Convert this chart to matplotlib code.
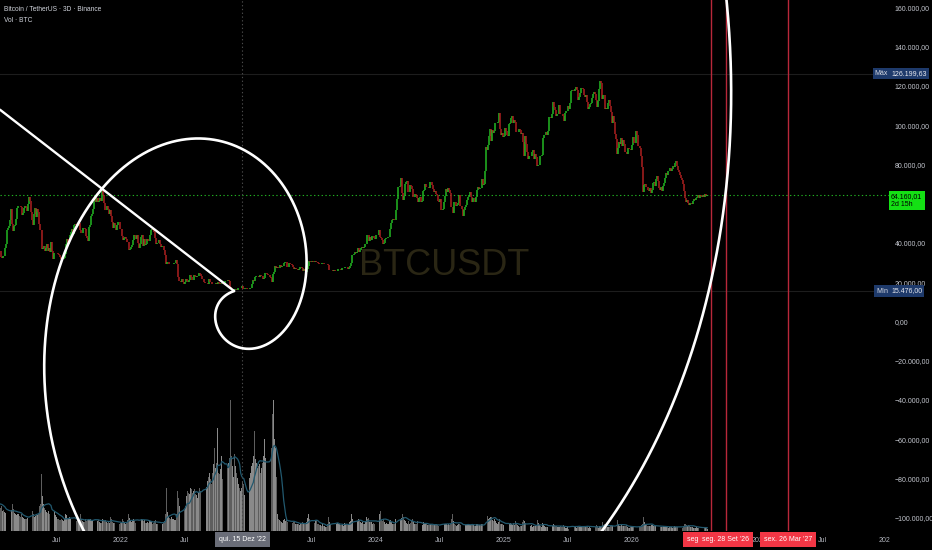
import numpy as np
import pandas as pd
import matplotlib
matplotlib.use('Agg')
import matplotlib.pyplot as plt
import matplotlib.dates as mdates
from matplotlib.patches import Rectangle
from matplotlib.transforms import blended_transform_factory

plt.rcParams['font.family'] = ['Liberation Sans', 'DejaVu Sans']

# 3D closes in thousand USDT, first candle 2021-01-01, one row = 10 candles (30 days)
close_k = [
    29.4, 31.9, 39.4, 38.2, 37.4, 36.0, 35.8, 33.0, 32.3, 33.4,   # 2021-01
    33.1, 37.6, 39.3, 46.4, 47.4, 48.7, 51.6, 57.5, 49.7, 46.2,
    48.4, 48.9, 52.4, 57.8, 59.0, 58.9, 58.1, 54.3, 55.1, 57.6,
    59.0, 58.2, 56.0, 59.8, 63.6, 61.3, 55.7, 51.7, 49.0, 54.9,
    57.8, 53.2, 57.4, 55.9, 49.7, 46.4, 37.0, 37.5, 38.4, 35.7,
    37.3, 39.2, 35.8, 37.3, 35.5, 40.2, 35.8, 31.6, 34.7, 34.7,
    35.0, 34.7, 34.2, 33.8, 32.7, 31.8, 31.8, 32.1, 34.2, 39.5,
    42.2, 39.2, 40.9, 43.8, 45.6, 47.1, 44.7, 49.3, 49.5, 49.0,
    48.8, 48.8, 50.0, 46.8, 44.9, 44.9, 47.7, 47.3, 43.6, 42.7,
    41.0, 48.1, 49.2, 53.8, 54.7, 57.4, 60.9, 64.3, 60.7, 63.1,
    60.6, 61.3, 62.9, 61.5, 67.5, 64.2, 60.1, 56.9, 58.6, 57.2,
    54.8, 57.0, 53.6, 50.6, 47.6, 50.1, 48.9, 46.7, 48.9, 50.8,
    50.7, 47.1, 47.3, 43.5, 41.7, 42.7, 43.1, 42.2, 40.7, 36.3,   # 2022-01
    36.8, 37.9, 38.7, 41.6, 43.8, 43.5, 42.2, 43.9, 40.1, 37.3,
    39.2, 43.2, 43.9, 38.4, 41.9, 38.8, 39.3, 41.8, 41.0, 44.0,
    46.8, 47.1, 46.4, 45.5, 42.3, 39.5, 39.9, 39.7, 41.5, 39.4,
    38.1, 38.6, 38.5, 36.5, 34.0, 29.0, 30.1, 30.4, 29.2, 29.1,
    29.2, 29.4, 29.8, 29.9, 31.1, 29.1, 22.5, 20.4, 20.6, 20.0,
    21.5, 20.1, 19.3, 20.2, 21.6, 20.8, 20.2, 21.2, 23.4, 22.6,
    21.3, 23.8, 23.3, 22.8, 23.2, 23.2, 24.4, 24.3, 23.3, 21.5,
    21.5, 20.0, 19.8, 19.8, 19.8, 19.3, 21.8, 20.2, 20.1, 18.9,
    19.3, 19.2, 19.6, 19.3, 20.3, 19.4, 19.0, 19.2, 19.5, 19.2,
    19.6, 20.8, 20.6, 20.5, 21.3, 20.6, 17.6, 16.3, 16.7, 16.7,
    16.2, 16.5, 16.2, 16.9, 17.1, 16.8, 17.1, 17.8, 16.6, 16.4,
    16.8, 16.8, 16.5, 16.5, 16.7, 16.9, 17.2, 18.8, 20.9, 20.7,
    22.8, 22.9, 23.0, 22.8, 23.4, 22.9, 22.9, 21.6, 22.2, 24.6,   # 2023-01
    24.8, 23.9, 23.5, 23.6, 22.4, 22.2, 20.2, 24.1, 25.0, 28.0,
    27.3, 27.5, 27.1, 28.5, 27.8, 28.0, 28.3, 30.0, 30.3, 30.4,
    27.8, 27.5, 29.5, 29.2, 29.0, 28.8, 27.6, 26.8, 27.2, 26.8,
    26.8, 26.3, 26.9, 27.7, 27.2, 25.7, 26.5, 25.8, 25.1, 26.5,
    28.3, 30.7, 30.3, 30.4, 30.6, 30.5, 30.3, 30.6, 30.3, 30.1,
    29.9, 29.2, 29.4, 29.3, 29.7, 29.1, 29.2, 29.4, 29.3, 28.7,
    26.1, 26.4, 26.2, 26.1, 25.9, 26.0, 25.8, 25.9, 25.9, 26.5,
    26.8, 26.6, 26.3, 27.0, 27.0, 27.6, 27.9, 27.6, 26.9, 27.1,
    28.4, 29.9, 33.9, 34.0, 34.5, 35.4, 35.0, 35.6, 37.3, 35.6,
    36.6, 37.5, 37.7, 37.5, 37.9, 39.5, 44.0, 43.8, 41.2, 43.0,
    41.4, 43.7, 43.7, 42.5, 42.1, 44.2, 44.2, 43.9, 46.7, 42.8,
    42.5, 41.6, 39.5, 40.0, 42.0, 42.6, 43.0, 43.1, 47.1, 49.9,   # 2024-01
    51.9, 52.1, 51.9, 51.7, 57.0, 62.4, 68.3, 68.3, 68.9, 73.1,
    65.3, 62.0, 63.8, 69.9, 70.8, 71.3, 65.9, 69.4, 69.1, 67.2,
    63.4, 63.5, 64.9, 64.3, 63.1, 60.6, 62.9, 63.2, 60.8, 61.5,
    66.2, 67.0, 70.1, 68.5, 68.5, 68.4, 67.7, 71.1, 69.3, 67.3,
    66.0, 66.5, 64.9, 64.2, 61.5, 60.9, 62.1, 56.6, 56.7, 57.3,
    60.8, 64.1, 67.2, 65.9, 67.9, 66.8, 65.4, 58.1, 55.0, 60.9,
    60.6, 58.9, 59.5, 60.4, 64.2, 59.0, 58.9, 57.5, 53.9, 57.0,
    58.2, 59.2, 61.8, 63.3, 64.3, 65.8, 63.3, 60.8, 62.8, 60.6,
    63.2, 67.0, 68.4, 67.4, 68.2, 67.9, 72.3, 69.3, 70.0, 76.7,
    88.7, 87.2, 89.8, 94.3, 97.8, 91.9, 97.5, 95.9, 96.9, 101.1,
    101.1, 101.4, 106.1, 97.8, 94.7, 95.8, 93.7, 94.6, 98.3, 96.9,
    94.7, 94.5, 100.5, 101.3, 103.7, 104.7, 101.3, 102.4, 101.4, 96.5,   # 2025-01
    96.5, 97.9, 97.5, 95.6, 96.1, 91.5, 84.3, 94.3, 90.6, 86.2,
    82.9, 84.0, 84.1, 84.2, 86.1, 87.2, 82.6, 85.1, 83.9, 79.1,
    79.6, 84.5, 84.0, 85.0, 93.4, 94.7, 95.0, 96.5, 95.0, 97.0,
    104.0, 104.1, 103.5, 105.6, 111.7, 109.0, 107.8, 104.6, 105.4, 105.6,
    110.2, 105.9, 105.6, 104.8, 102.2, 106.1, 107.1, 107.1, 109.6, 108.2,
    111.3, 117.5, 117.7, 117.9, 117.4, 118.4, 119.4, 117.8, 112.6, 114.1,
    116.5, 118.7, 118.3, 115.4, 114.3, 115.3, 111.8, 108.4, 109.2, 110.7,
    111.1, 114.0, 115.9, 116.8, 115.7, 112.7, 109.0, 112.2, 118.6, 122.3,
    121.5, 113.2, 115.2, 108.2, 108.6, 108.4, 111.5, 112.9, 109.6, 106.5,
    101.3, 104.7, 101.6, 95.5, 92.9, 85.1, 88.3, 91.3, 90.4, 93.4,
    89.3, 92.6, 90.3, 86.4, 85.5, 88.5, 87.6, 87.8, 87.1, 90.0,
    93.9, 90.9, 90.8, 96.9, 95.1, 89.5, 89.3, 88.2, 84.5, 78.6,   # 2026-01
    66.0, 69.5, 70.2, 68.5, 67.0, 66.5, 68.0, 65.5, 66.8, 70.5,
    71.0, 69.0, 72.5, 74.0, 71.5, 68.0, 67.0, 68.5, 66.5, 69.0,
    70.5, 73.0, 75.5, 74.5, 76.5, 78.0, 76.5, 77.5, 79.0, 78.5,
    80.5, 81.5, 79.0, 77.0, 76.0, 74.5, 73.0, 72.0, 70.0, 66.5,
    63.0, 61.0, 62.0, 60.5, 59.5, 60.5, 59.8, 61.5, 62.5, 62.0,
    63.0, 63.5, 64.2, 63.0, 64.5, 64.0, 63.2, 64.5, 63.5, 64.8,
    64.0, 64.16,
]

# 3D volume in thousand BTC, same candles
vol_k = [
    360, 330, 420, 380, 300, 260, 250, 280, 300, 240,
    250, 230, 220, 260, 240, 200, 210, 250, 330, 260,
    220, 200, 190, 210, 200, 180, 170, 200, 170, 160,
    150, 140, 150, 160, 190, 230, 250, 240, 200, 170,
    180, 200, 190, 210, 300, 330, 680, 420, 320, 280,
    250, 230, 220, 240, 200, 230, 210, 300, 240, 190,
    170, 150, 140, 130, 130, 140, 130, 120, 150, 200,
    190, 150, 150, 170, 150, 140, 140, 150, 130, 120,
    130, 120, 140, 200, 150, 120, 110, 110, 140, 120,
    130, 150, 130, 140, 120, 120, 150, 160, 130, 120,
    130, 110, 100, 100, 140, 120, 120, 130, 110, 100,
    110, 100, 170, 150, 110, 100, 100, 100, 90, 80,
    80, 100, 110, 140, 120, 100, 90, 100, 130, 200,
    160, 120, 110, 130, 140, 120, 100, 120, 130, 160,
    180, 150, 130, 120, 130, 100, 100, 110, 100, 120,
    120, 110, 90, 100, 120, 130, 90, 80, 100, 90,
    100, 90, 110, 120, 200, 520, 230, 180, 160, 150,
    170, 150, 140, 130, 130, 200, 480, 400, 300, 220,
    240, 220, 250, 300, 420, 480, 460, 440, 520, 500,
    460, 480, 500, 450, 430, 400, 460, 520, 480, 560,
    600, 550, 520, 530, 600, 650, 700, 620, 560, 700,
    800, 1000, 760, 820, 1240, 700, 680, 750, 900, 620,
    700, 860, 800, 760, 820, 880, 1570, 900, 780, 650,
    920, 780, 700, 640, 560, 520, 480, 520, 600, 560,
    430, 300, 280, 420, 640, 700, 780, 820, 900, 1200,
    860, 820, 760, 780, 800, 700, 760, 820, 900, 1100,
    880, 760, 800, 760, 900, 1000, 1400, 1570, 1100, 1000,
    650, 200, 140, 130, 120, 110, 100, 130, 140, 120,
    130, 110, 140, 100, 90, 100, 110, 120, 90, 80,
    80, 90, 70, 80, 90, 110, 100, 90, 100, 110,
    160, 200, 140, 130, 110, 100, 100, 120, 130, 90,
    80, 70, 70, 60, 80, 60, 60, 50, 50, 90,
    170, 110, 80, 90, 110, 70, 70, 80, 100, 80,
    80, 70, 70, 80, 60, 100, 90, 80, 80, 70,
    110, 120, 200, 150, 110, 120, 100, 120, 140, 130,
    110, 100, 110, 90, 90, 120, 170, 150, 160, 110,
    110, 110, 90, 100, 80, 130, 140, 120, 200, 240,
    130, 120, 150, 110, 90, 100, 90, 80, 120, 130,
    110, 90, 80, 80, 140, 180, 200, 170, 150, 160,
    200, 170, 130, 120, 100, 90, 120, 90, 100, 120,
    140, 120, 90, 80, 80, 120, 110, 80, 80, 70,
    110, 80, 100, 80, 70, 70, 70, 80, 80, 70,
    70, 70, 80, 80, 70, 60, 60, 120, 110, 90,
    80, 90, 80, 70, 80, 70, 80, 140, 200, 120,
    80, 70, 60, 70, 90, 80, 70, 70, 90, 80,
    70, 70, 80, 80, 70, 70, 80, 90, 70, 60,
    60, 80, 80, 70, 70, 70, 80, 80, 70, 150,
    240, 180, 150, 160, 170, 170, 130, 120, 140, 120,
    100, 90, 110, 140, 90, 80, 80, 70, 70, 80,
    90, 100, 90, 100, 80, 70, 100, 70, 120, 90,
    70, 60, 50, 60, 60, 110, 130, 120, 100, 80,
    80, 70, 60, 70, 50, 60, 60, 60, 70, 130,
    100, 70, 60, 50, 100, 80, 60, 50, 50, 50,
    70, 60, 50, 60, 80, 70, 60, 60, 50, 50,
    50, 60, 50, 50, 70, 60, 40, 40, 50, 30,
    70, 80, 60, 50, 50, 60, 40, 50, 60, 50,
    50, 60, 60, 50, 60, 60, 60, 60, 40, 50,
    40, 50, 40, 40, 50, 70, 60, 40, 60, 60,
    60, 110, 70, 80, 60, 50, 50, 50, 50, 60,
    70, 60, 60, 80, 90, 130, 90, 60, 60, 70,
    60, 60, 60, 60, 70, 50, 40, 40, 50, 50,
    50, 60, 40, 60, 50, 60, 50, 50, 70, 90,
    170, 110, 80, 70, 60, 60, 60, 60, 70, 70,
    60, 60, 60, 60, 50, 60, 50, 50, 50, 60,
    50, 50, 60, 50, 40, 50, 50, 50, 40, 50,
    60, 50, 50, 50, 40, 50, 50, 40, 60, 80,
    90, 70, 60, 70, 60, 50, 50, 50, 40, 40,
    40, 50, 40, 40, 40, 40, 40, 40, 40, 40,
    40, 30,
]

first_open_k = 28.9
first_candle = '2021-01-01'

# labels hidden under the crosshair / drawing boxes (2023, Jul 2026) are left out
tick_dates = ['2021-07-01', '2022-01-01', '2022-07-01', '2023-07-01',
              '2024-01-01', '2024-07-01', '2025-01-01', '2025-07-01', '2026-01-01',
              '2027-01-01', '2027-07-01', '2028-01-01']
tick_labels = ['Jul', '2022', 'Jul', 'Jul', '2024', 'Jul', '2025', 'Jul', '2026',
               '2027', 'Jul', '2028']
price_ticks = [160000, 140000, 120000, 100000, 80000, 40000, 20000, 0,
               -20000, -40000, -60000, -80000, -100000]

last_price = 64160.01
countdown = '2d 15h'
price_max = 126199.63
price_min = 15476.00

spiral_center = ('2022-11-21', 15476.0)
spiral_anchor = ('2021-11-08', 67600.0)

vline_dates = ['2026-08-17', '2026-09-28', '2027-03-26']
vline_labels = ["seg. 17 Ago '26", "seg. 28 Set '26", "sex. 26 Mar '27"]
cross_date = '2022-12-15'
cross_label = "qui. 15 Dez '22"


def dnum(s):
    return mdates.date2num(np.datetime64(s))


def br(v):
    s = f"{abs(v):,.2f}".replace(',', 'X').replace('.', ',').replace('X', '.')
    return ('\u2212' if v < 0 else '') + s


n = min(len(close_k), len(vol_k))
close = np.array(close_k[:n]) * 1000
opens = np.concatenate([[first_open_k * 1000], close[:-1]])
vol = np.array(vol_k[:n], dtype=float)
t = mdates.date2num(np.datetime64(first_candle) + np.arange(n) * np.timedelta64(3, 'D'))
up = close >= opens

W, H = 932, 550
fig = plt.figure(figsize=(W / 100, H / 100), dpi=100, facecolor='black')
rect = [0, 19 / H, 889 / W, 531 / H]
axv = fig.add_axes(rect)
ax = fig.add_axes(rect, sharex=axv)
axv.set_facecolor('black')
ax.patch.set_visible(False)
axv.set_zorder(0)
ax.set_zorder(1)

x0 = dnum('2022-01-01') - 345.8
x1 = dnum('2022-01-01') + 2198.0
ax.set_xlim(x0, x1)
ax.set_ylim(-106770, 163720)

# volume overlay
axv.set_ylim(0, 6372)
axv.bar(t, vol, width=2.4, color=np.where(up, '#8a8a8a', '#5e5e5e'), linewidth=0)
vma = pd.Series(vol).rolling(10, min_periods=1).mean()
axv.plot(t, vma, color='#22596f', lw=0.9)
axv.axis('off')

# candles
ax.vlines(t, np.minimum(opens, close), np.maximum(opens, close),
          colors=np.where(up, '#22b822', '#ad2020'), lw=1.1, zorder=3)

ax.text(0.5, 0.5, 'BTCUSDT', transform=ax.transAxes, ha='center', va='center',
        fontsize=26, color='#2a2614', zorder=0.5,
        family=['DejaVu Sans Condensed', 'Liberation Sans Narrow', 'Liberation Sans'])

# price lines
ax.axhline(price_max, color='#1d1d1d', lw=0.8, zorder=1)
ax.axhline(price_min, color='#1d1d1d', lw=0.8, zorder=1)
ax.axhline(last_price, color='#22b022', lw=0.8, ls=(0, (1.2, 2.2)), zorder=2)
ax.axvline(dnum(cross_date), color='#4a4a4a', lw=0.8, ls=(0, (1.2, 2.2)), zorder=2)
for d in vline_dates:
    ax.axvline(dnum(d), color='#b8283a', lw=1.0, zorder=4)

# fib spiral
cx, cy = dnum(spiral_center[0]), spiral_center[1]
axx, ayy = dnum(spiral_anchor[0]), spiral_anchor[1]
tt = (x0 - cx) / (axx - cx)
ax.plot([x0, cx], [cy + tt * (ayy - cy), cy], color='white', lw=1.7, zorder=6,
        solid_capstyle='round')

phi = (1 + 5 ** 0.5) / 2
b = np.log(phi) / (np.pi / 2)
y_stretch = 1.3
th_start, th_end, hook = 3.4, 13.4, 3.0
c_px = ax.transData.transform((cx, cy))
a_px = ax.transData.transform((axx, ayy))
dx, dy = a_px - c_px
r_a = np.hypot(dx, dy / y_stretch)
th_a = np.arctan2(dy / y_stretch, dx) + 2 * np.pi
th = np.linspace(th_start, th_end, 2500)
r = r_a * np.exp(b * (th - th_a)) * (1 - np.exp(-hook * (th - th_start)))
pts = np.column_stack([c_px[0] + r * np.cos(th), c_px[1] + y_stretch * r * np.sin(th)])
sp = ax.transData.inverted().transform(pts)
ax.plot(sp[:, 0], sp[:, 1], color='white', lw=1.9, zorder=6, solid_capstyle='round')

# axes styling
for s in ax.spines.values():
    s.set_visible(False)
ax.yaxis.tick_right()
ax.set_yticks(price_ticks, [br(v) for v in price_ticks])
ax.set_xticks([dnum(d) for d in tick_dates], tick_labels)
ax.tick_params(axis='y', length=0, pad=4, labelsize=5, labelcolor='#c3c6ce')
ax.tick_params(axis='x', length=0, pad=4, labelsize=5, labelcolor='#b2b5be')

# time-axis labels
bt = blended_transform_factory(ax.transData, ax.transAxes)
for d, lab in zip(vline_dates, vline_labels):
    ax.text(dnum(d), -8.5 / 531, lab, transform=bt, ha='center', va='center', fontsize=5,
            color='white', zorder=20, clip_on=False,
            bbox=dict(boxstyle='square,pad=0.55', fc='#f23645', ec='none'))
ax.text(dnum(cross_date), -8.5 / 531, cross_label, transform=bt, ha='center', va='center',
        fontsize=5, color='white', zorder=20, clip_on=False,
        bbox=dict(boxstyle='square,pad=0.55', fc='#6a6d78', ec='none'))

# price-scale strip below the pane
fig.patches.append(Rectangle((890 / W, 0), 42 / W, 19 / H, transform=fig.transFigure,
                             color='black', zorder=5))


def fig_y(p):
    return fig.transFigure.inverted().transform(ax.transData.transform((x0, p)))[1]


navy = '#1e3a6b'
for tag, p in (('Máx', price_max), ('Mín', price_min)):
    fig.text(888 / W, fig_y(p), tag, ha='right', va='center', fontsize=5, color='#d8dbe3',
             zorder=10, bbox=dict(boxstyle='square,pad=0.3', fc=navy, ec='none'))
    fig.text(891 / W, fig_y(p), br(p), ha='left', va='center', fontsize=5, color='#e6e8ee',
             zorder=10, bbox=dict(boxstyle='square,pad=0.3', fc=navy, ec='none'))
fig.text(891 / W, fig_y(last_price) - 5 / H, br(last_price) + '\n' + countdown, ha='left',
         va='center', fontsize=5, color='black', linespacing=1.15, zorder=10,
         bbox=dict(boxstyle='square,pad=0.35', fc='#14e014', ec='none'))

fig.text(4 / W, 1 - 9.5 / H, 'Bitcoin / TetherUS · 3D · Binance', ha='left', va='center',
         fontsize=4.8, color='#d1d4dc')
fig.text(4 / W, 1 - 20 / H, 'Vol · BTC', ha='left', va='center', fontsize=4.8, color='#d1d4dc')

fig.savefig('out.png', dpi=100, facecolor='black')
